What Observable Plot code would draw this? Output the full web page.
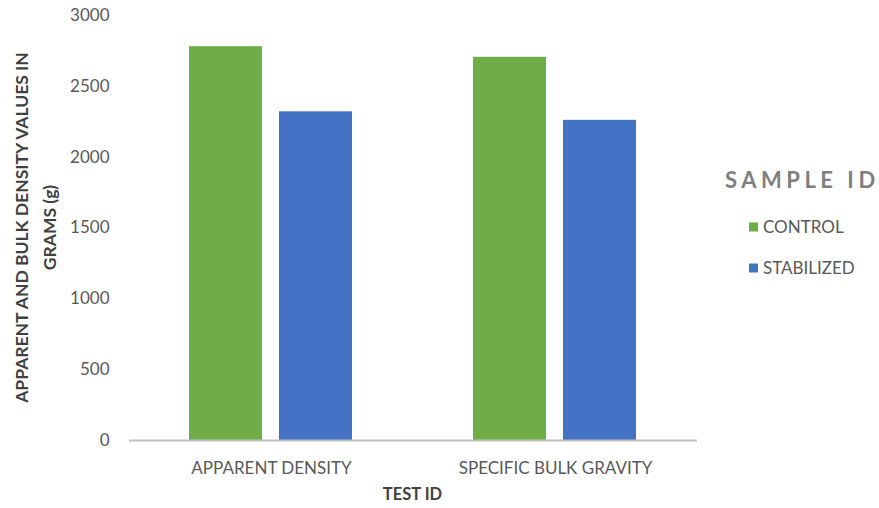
<!DOCTYPE html>
<html>
<head>
<meta charset="utf-8">
<script src="https://cdn.jsdelivr.net/npm/d3@7"></script>
<script src="https://cdn.jsdelivr.net/npm/@observablehq/plot@0.6"></script>
<style>
  html, body { margin: 0; padding: 0; background: #fff; }
  #chart { position: relative; width: 879px; height: 508px; }
</style>
</head>
<body>
<div id="chart"></div>
<script>
// Test categories and the two sample series (grams)
const tests = ["APPARENT DENSITY", "SPECIFIC BULK GRAVITY"];
const samples = ["CONTROL", "STABILIZED"];
const control = [2780, 2705];
const stabilized = [2320, 2260];
const yTicks = [0, 500, 1000, 1500, 2000, 2500, 3000];
const sampleColors = ["#70ad47", "#4472c4"];

const yTitle = ["APPARENT AND BULK DENSITY VALUES IN", "GRAMS (g)"];
const xTitle = "TEST ID";
const legendTitle = "SAMPLE ID";

const rows = tests.flatMap((t, i) => [
  {test: t, sample: samples[0], value: control[i]},
  {test: t, sample: samples[1], value: stabilized[i]}
]);

const W = 879, H = 508;
const mTop = 15, mBottom = 68, mLeft = 128, mRight = 182;

const chart = Plot.plot({
  width: W,
  height: H,
  marginTop: mTop,
  marginBottom: mBottom,
  marginLeft: mLeft,
  marginRight: mRight,
  style: {fontFamily: "Lato, sans-serif", fontSize: "17px", color: "#595959", background: "#fff"},
  fx: {domain: tests, padding: 0, axis: "bottom", label: null, tickSize: 0, tickPadding: 21},
  x: {domain: samples, paddingInner: 0.187, paddingOuter: 0.657, axis: null},
  y: {domain: [0, 3000], ticks: yTicks, tickFormat: d => String(d), tickSize: 0, tickPadding: 20, label: null},
  color: {domain: samples, range: sampleColors},
  marks: [
    Plot.barY(rows, {fx: "test", x: "sample", y: "value", fill: "sample"}),
    Plot.ruleY([0], {stroke: "#bfbfbf", strokeWidth: 2})
  ]
});

document.getElementById("chart").append(chart);

// Axis titles and legend drawn into the same SVG
const svg = d3.select(chart);
const plotMidY = mTop + (H - mTop - mBottom) / 2;

const yt = svg.append("g")
  .attr("font-family", "Lato, sans-serif")
  .attr("font-size", 17.5)
  .attr("font-weight", "bold")
  .attr("fill", "#404040")
  .attr("text-anchor", "middle");
yTitle.forEach((line, i) => {
  yt.append("text")
    .attr("transform", `translate(${22 + i * 28},${plotMidY}) rotate(-90)`)
    .attr("dy", "0.35em")
    .text(line);
});

svg.append("text")
  .attr("x", mLeft + (W - mLeft - mRight) / 2)
  .attr("y", 494)
  .attr("dy", "0.35em")
  .attr("text-anchor", "middle")
  .attr("font-family", "Lato, sans-serif")
  .attr("font-size", 16.5)
  .attr("font-weight", "bold")
  .attr("fill", "#404040")
  .text(xTitle);

const lg = svg.append("g")
  .attr("font-family", "Lato, sans-serif")
  .attr("text-anchor", "start");
lg.append("text")
  .attr("x", 725)
  .attr("y", 180)
  .attr("dy", "0.35em")
  .attr("font-size", 22)
  .attr("font-weight", "bold")
  .attr("letter-spacing", 4.5)
  .attr("fill", "#7f7f7f")
  .text(legendTitle);
samples.forEach((s, i) => {
  const cy = 227 + i * 41;
  lg.append("rect")
    .attr("x", 749).attr("y", cy - 4.5)
    .attr("width", 9).attr("height", 9)
    .attr("fill", sampleColors[i]);
  lg.append("text")
    .attr("x", 763).attr("y", cy)
    .attr("dy", "0.35em")
    .attr("font-size", 17)
    .attr("fill", "#595959")
    .text(s);
});
</script>
</body>
</html>
